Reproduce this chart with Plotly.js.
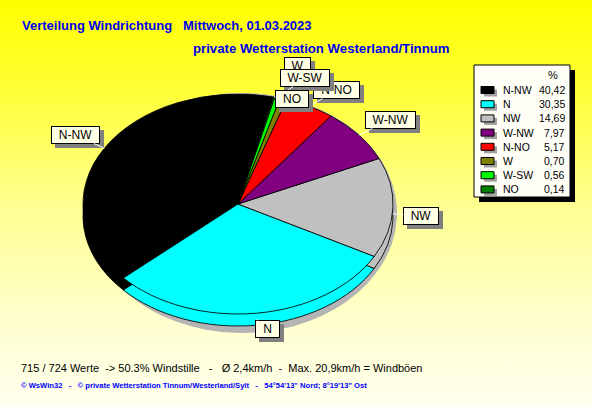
<!DOCTYPE html>
<html>
<head>
<meta charset="utf-8">
<script src="https://cdn.plot.ly/plotly-3.0.1.min.js"></script>
<style>
  html, body { margin:0; padding:0; }
  body { width:592px; height:407px; overflow:hidden;
         background: linear-gradient(to bottom, #ffff00 0%, #ffff30 20%, #ffff90 50%, #ffffd0 80%, #fffff0 100%); }
  #chart { width:592px; height:407px; }
</style>
</head>
<body>
<div id="chart"></div>
<script>
// ---- data ----
const directions = ["N-NW", "N", "NW", "W-NW", "N-NO", "W", "W-SW", "NO"];
const percents   = [40.42, 30.35, 14.69, 7.97, 5.17, 0.70, 0.56, 0.14];
const sliceColors = ["#000000", "#00ffff", "#c0c0c0", "#800080", "#ff0000", "#808000", "#00ff00", "#008000"];
const titleText = "Verteilung Windrichtung   Mittwoch, 01.03.2023";
const subtitleText = "private Wetterstation Westerland/Tinnum";
const infoText = "715 / 724 Werte  -> 50.3% Windstille   -   Ø 2,4km/h  -  Max. 20,9km/h = Windböen";
const footerText = "© WsWin32   -   © private Wetterstation Tinnum/Westerland/Sylt   -   54°54'13\" Nord; 8°19'13\" Ost";

// ---- layout helpers ----
const W = 592, H = 407;
const px = x => x / W;
const py = y => 1 - y / H;
const total = percents.reduce((a, b) => a + b, 0);
const START = 13.2;   // first slice begins 13.2 deg clockwise from 12 o'clock, running counterclockwise
const ROT = START - percents[0] / total * 360;
const faceGeom = {cx: 238, cy: 204, rx: 155, ry: 110};
const sideGeom = {cx: 238, cy: 216, rx: 155, ry: 110};
const shadowGeom = {cx: 242, cy: 213, rx: 155, ry: 120};
const pieGeoms = [shadowGeom, sideGeom, faceGeom];

function domainFor(g) {
  return { x: [(g.cx - g.rx) / W, (g.cx + g.rx) / W],
           y: [1 - (g.cy + g.rx) / H, 1 - (g.cy - g.rx) / H] };
}

const common = { type: 'pie', sort: false, direction: 'counterclockwise', rotation: ROT,
                 textinfo: 'none', textposition: 'none', hoverinfo: 'skip', showlegend: false };

const data = [
  Object.assign({}, common, { values: [1], labels: ["shadow"], domain: domainFor(shadowGeom),
    marker: { colors: ["#b4b4b4"], line: { width: 0 } } }),
  Object.assign({}, common, { values: percents, labels: directions, domain: domainFor(sideGeom),
    marker: { colors: sliceColors, line: { color: "#000000", width: 1 } } }),
  Object.assign({}, common, { values: percents, labels: directions, domain: domainFor(faceGeom),
    marker: { colors: sliceColors, line: { color: "#000000", width: 1 } } })
];

// label box centres (pixels)
const labelPos = {
  "N-NW": [75, 135], "N": [267, 329], "NW": [421, 216], "W-NW": [390, 120],
  "N-NO": [336, 90], "W": [297, 66], "W-SW": [305, 78], "NO": [292, 99]
};

const annotations = [];
const shapes = [];
const fontFam = "Liberation Sans, Arial, sans-serif";
const ctx = document.createElement('canvas').getContext('2d');
ctx.font = "12px 'Liberation Sans', Arial, sans-serif";

// slice labels with leader lines
let cum = 0;
const startMath = 90 - START;
directions.forEach((d, i) => {
  const mid = startMath + (cum + percents[i] / 2) / total * 360;
  cum += percents[i];
  const a = mid * Math.PI / 180;
  const tx = faceGeom.cx + faceGeom.rx * Math.cos(a);
  let ty = faceGeom.cy - faceGeom.ry * Math.sin(a);
  if (Math.sin(a) < 0) ty += 6;
  const [lx, ly] = labelPos[d];
  const bw = Math.round(ctx.measureText(d).width + 12);
  annotations.push({ xref: 'paper', yref: 'paper', x: px(lx + 4), y: py(ly + 4), xanchor: 'center', yanchor: 'middle',
    showarrow: false, text: "\u00a0", width: bw, height: 14,
    font: { family: fontFam, size: 12, color: "#808080" }, bgcolor: "#808080",
    borderwidth: 1, bordercolor: "#808080", borderpad: 1 });
  annotations.push({ xref: 'paper', yref: 'paper', x: px(tx), y: py(ty), showarrow: true,
    ax: lx - tx, ay: ly - ty, arrowhead: 0, arrowwidth: 1, arrowcolor: "#ffffff", standoff: 0,
    text: d, width: bw, height: 14, align: 'center', valign: 'middle',
    font: { family: fontFam, size: 12, color: "#000000" }, bgcolor: "#ffffe6",
    borderwidth: 1, bordercolor: "#000000", borderpad: 1 });
});

// legend box
shapes.push({ type: 'rect', xref: 'paper', yref: 'paper', x0: px(479), x1: px(575), y0: py(70), y1: py(202),
  fillcolor: "#000000", line: { width: 0 } });
shapes.push({ type: 'rect', xref: 'paper', yref: 'paper', x0: px(474), x1: px(570), y0: py(65), y1: py(197),
  fillcolor: "#fffff8", line: { color: "#000000", width: 1 } });
annotations.push({ xref: 'paper', yref: 'paper', x: px(553), y: py(75), xanchor: 'center', yanchor: 'middle',
  showarrow: false, text: "%", font: { family: fontFam, size: 11, color: "#000000" } });
directions.forEach((d, i) => {
  const yc = 90 + i * 14.2;
  shapes.push({ type: 'rect', xref: 'paper', yref: 'paper', x0: px(484), x1: px(497), y0: py(yc - 0.5), y1: py(yc + 6.5),
    fillcolor: "#a0a0a0", line: { width: 0 } });
  shapes.push({ type: 'rect', xref: 'paper', yref: 'paper', x0: px(481), x1: px(494), y0: py(yc - 3.5), y1: py(yc + 3.5),
    fillcolor: sliceColors[i], line: { color: "#000000", width: 1 } });
  annotations.push({ xref: 'paper', yref: 'paper', x: px(501), y: py(yc), xanchor: 'left', yanchor: 'middle',
    showarrow: false, text: d, font: { family: fontFam, size: 10.5, color: "#000000" } });
  annotations.push({ xref: 'paper', yref: 'paper', x: px(567), y: py(yc), xanchor: 'right', yanchor: 'middle',
    showarrow: false, text: percents[i].toFixed(2).replace('.', ','), font: { family: fontFam, size: 10.5, color: "#000000" } });
});

// titles and footer
annotations.push({ xref: 'paper', yref: 'paper', x: px(20), y: py(25), xanchor: 'left', yanchor: 'middle',
  showarrow: false, text: "<b>" + titleText.replace(/ /g, "\u00a0") + "</b>", font: { family: fontFam, size: 13, color: "#0000f0" } });
annotations.push({ xref: 'paper', yref: 'paper', x: px(191), y: py(49), xanchor: 'left', yanchor: 'middle',
  showarrow: false, text: "<b>" + subtitleText + "</b>", font: { family: fontFam, size: 13.2, color: "#0000f0" } });
annotations.push({ xref: 'paper', yref: 'paper', x: px(19), y: py(368), xanchor: 'left', yanchor: 'middle',
  showarrow: false, text: infoText.replace(/ /g, "\u00a0"), font: { family: fontFam, size: 11, color: "#000000" } });
annotations.push({ xref: 'paper', yref: 'paper', x: px(19), y: py(385), xanchor: 'left', yanchor: 'middle',
  showarrow: false, text: "<b>" + footerText.replace(/ /g, "\u00a0") + "</b>", font: { family: fontFam, size: 7.6, color: "#0000ff" } });

const layout = {
  width: W, height: H, margin: { l: 0, r: 0, t: 0, b: 0 },
  paper_bgcolor: 'rgba(0,0,0,0)', plot_bgcolor: 'rgba(0,0,0,0)',
  showlegend: false, shapes: shapes, annotations: annotations
};

Plotly.newPlot('chart', data, layout, { staticPlot: true, displayModeBar: false }).then(gd => {
  const traces = gd.querySelectorAll('.pielayer .trace');
  traces.forEach((g, i) => {
    const s = pieGeoms[i];
    const k = s.ry / s.rx;
    g.setAttribute('transform', 'translate(0,' + s.cy + ') scale(1,' + k + ') translate(0,' + (-s.cy) + ')');
  });
});
</script>
</body>
</html>
